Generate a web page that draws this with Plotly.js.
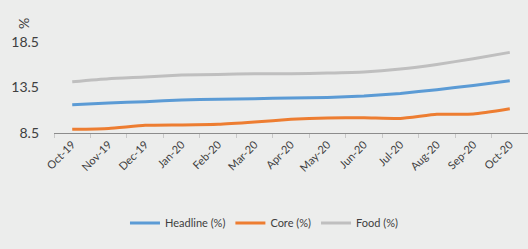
<!DOCTYPE html>
<html>
<head>
<meta charset="utf-8">
<script src="https://cdn.plot.ly/plotly-3.0.1.min.js"></script>
<style>html,body{margin:0;padding:0;background:#ECEDEC;}#chart{width:528px;height:249px;}</style>
</head>
<body>
<div id="chart"></div>
<script>
const months = ["Oct-19","Nov-19","Dec-19","Jan-20","Feb-20","Mar-20","Apr-20","May-20","Jun-20","Jul-20","Aug-20","Sep-20","Oct-20"];
const headline = [11.61,11.80,11.94,12.13,12.20,12.27,12.35,12.41,12.57,12.85,13.26,13.73,14.25];
const core = [8.90,9.00,9.34,9.38,9.45,9.70,10.00,10.15,10.18,10.10,10.55,10.59,11.17];
const food = [14.14,14.47,14.65,14.87,14.94,15.00,15.00,15.08,15.20,15.53,16.04,16.66,17.36];
const yTicks = [8.5,13.5,18.5];

const mk = (name, y, color) => ({
  x: months, y: y, name: name, type: 'scatter', mode: 'lines',
  line: {color: color, width: 3, shape: 'spline', smoothing: 0.5}
});
const data = [
  mk('Headline (%)', headline, '#5B9BD5'),
  mk('Core (%)', core, '#ED7D31'),
  mk('Food (%)', food, '#BFBFBF')
];
const layout = {
  width: 528, height: 249,
  paper_bgcolor: '#ECEDEC', plot_bgcolor: '#ECEDEC',
  margin: {l: 54, r: 0, t: 42, b: 116},
  font: {family: 'Lato, "Open Sans", sans-serif', color: '#404040'},
  showlegend: true,
  legend: {orientation: 'h', x: 0.443, xanchor: 'center', y: -0.99, yanchor: 'middle',
    font: {size: 11, color: '#404040'}, bgcolor: 'rgba(0,0,0,0)', itemwidth: 30, tracegroupgap: 0},
  xaxis: {type: 'category', range: [-0.5, 12.5], tickangle: -45, tickfont: {size: 11},
    showline: true, linecolor: '#8C8C8C', linewidth: 1, ticks: 'outside', ticklen: 4,
    tickcolor: '#C8C8C8', tickson: 'boundaries', showgrid: false, zeroline: false, fixedrange: true},
  yaxis: {range: [8.5, 18.5], tickvals: yTicks, ticktext: yTicks.map(v => v.toFixed(1)),
    tickfont: {size: 14, color: '#404040'}, showgrid: false, zeroline: false, showline: false,
    ticks: '', ticklabelstandoff: 14},
  annotations: [{text: '%', xref: 'paper', yref: 'paper', x: -0.063, y: 1.2, xanchor: 'center', yanchor: 'middle',
    showarrow: false, textangle: -90, font: {size: 14, color: '#404040'}}]
};
Plotly.newPlot('chart', data, layout, {displayModeBar: false, staticPlot: true});
</script>
</body>
</html>
